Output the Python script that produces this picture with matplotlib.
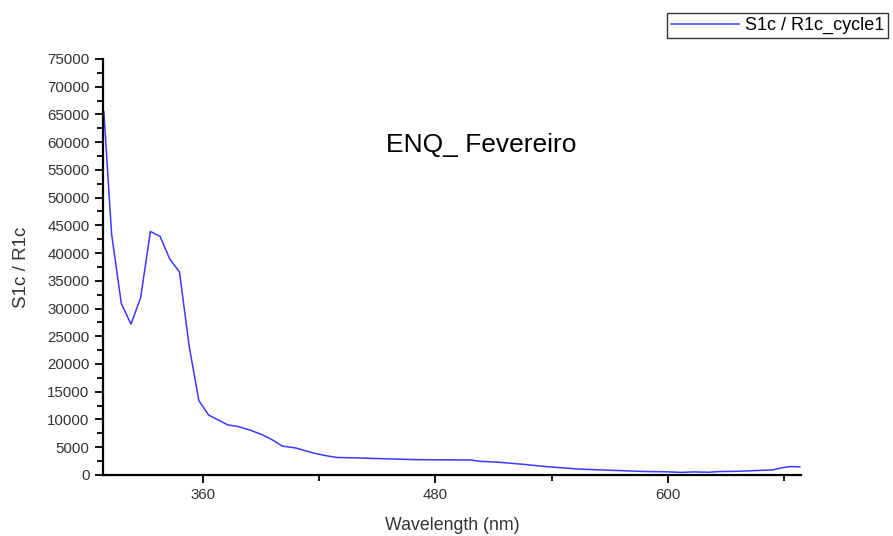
import matplotlib
matplotlib.use("Agg")
import matplotlib.pyplot as plt
from matplotlib.ticker import MultipleLocator

plt.rcParams['font.family'] = ['Liberation Sans', 'DejaVu Sans']

# spectrum
wavelength = [309, 313, 318, 323, 328, 333, 338, 343, 348, 353, 358, 363, 368, 373,
              378, 385, 391, 396, 401, 408, 417, 423, 429, 440, 450, 460, 470, 480,
              490, 498, 503, 512, 525, 537, 554, 565, 575, 587, 599, 607, 613, 621,
              626, 637, 645, 654, 659, 663, 668]
ratio = [65500, 43400, 30900, 27200, 32000, 43900, 43000, 38900, 36600, 23200, 13400,
         10800, 9900, 9000, 8750, 8000, 7200, 6300, 5200, 4850, 3950, 3500, 3150, 3050,
         2950, 2850, 2750, 2720, 2700, 2700, 2450, 2300, 1920, 1500, 1050, 900, 780,
         620, 560, 450, 540, 480, 600, 660, 780, 900, 1300, 1500, 1450]
series_name = "S1c / R1c_cycle1"
title = "ENQ_ Fevereiro"

fig = plt.figure(figsize=(8.93, 5.36), dpi=100)
ax = fig.add_axes([0.115, 0.114, 0.782, 0.776])

line, = ax.plot(wavelength, ratio, color='#3a3aff', lw=1.1)

ax.set_xlim(308.4, 668.6)
ax.set_ylim(0, 75000)
ax.xaxis.set_major_locator(MultipleLocator(120))
ax.xaxis.set_minor_locator(MultipleLocator(60))
ax.yaxis.set_major_locator(MultipleLocator(5000))
ax.yaxis.set_minor_locator(MultipleLocator(2500))
ax.tick_params(which='major', direction='out', length=6, width=1.3, labelsize=10.8, colors='black')
ax.tick_params(which='minor', direction='out', length=4, width=1.3)
ax.tick_params(axis='x', labelcolor='#333333')
ax.tick_params(axis='y', labelcolor='#333333')
for s in ['top', 'right']:
    ax.spines[s].set_visible(False)
for s in ['left', 'bottom']:
    ax.spines[s].set_linewidth(1.6)

ax.set_xlabel("Wavelength (nm)", fontsize=12.8, color='#333333', labelpad=11)
ax.set_ylabel("S1c / R1c", fontsize=13.5, color='#333333', labelpad=12)

ax.text(0.539, 0.73, title, transform=fig.transFigure, ha='center', va='center', fontsize=19)

fig.legend([line], [series_name], loc='upper right', bbox_to_anchor=(0.994, 0.975),
           fontsize=13, frameon=True, fancybox=False, edgecolor='black',
           borderpad=0.2, handlelength=3.8, handletextpad=0.3, borderaxespad=0)

fig.savefig("out.png", dpi=100, facecolor='white')
